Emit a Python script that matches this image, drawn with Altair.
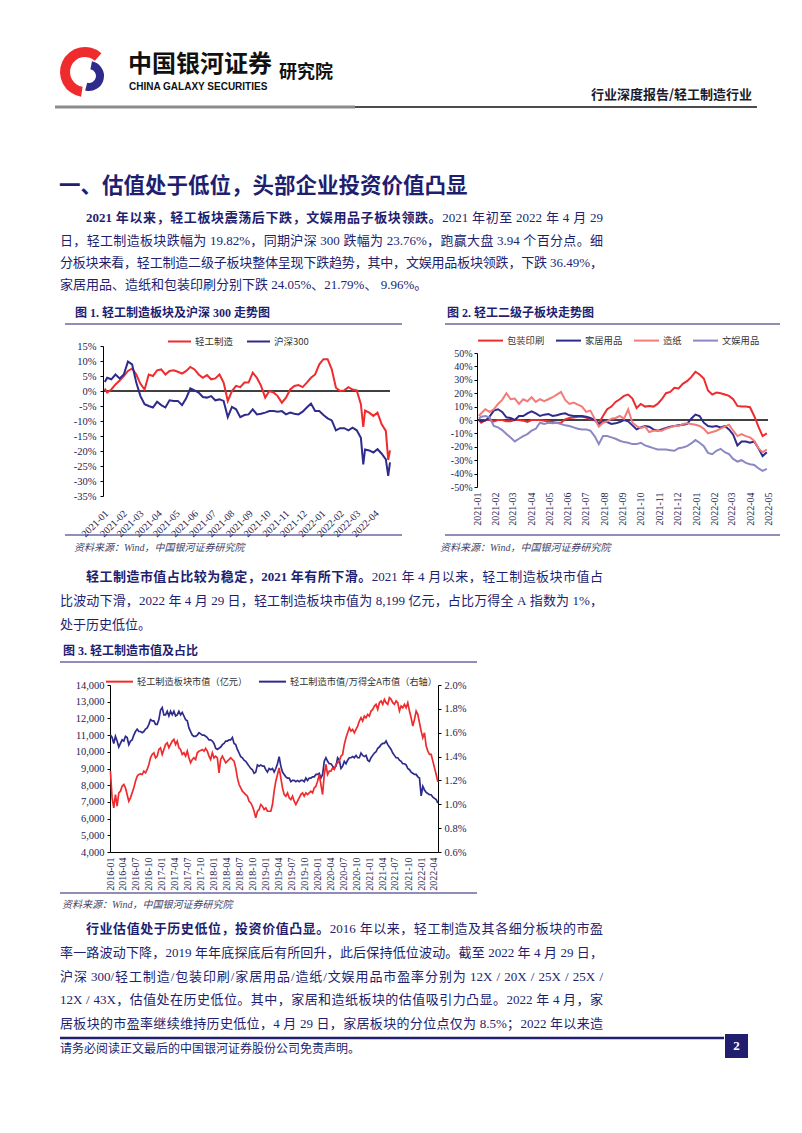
import altair as alt
import pandas as pd

# ---------------- colours & fonts ----------------
NAVY = "#221e6f"
INK = "#1c1c50"
RED = "#ef2b2d"
BLUE = "#2e2b8d"
SALMON = "#f37b79"
LAVENDER = "#8b88c4"
SERIF = "Liberation Serif, Noto Sans CJK SC"
SANS = "Noto Sans CJK SC"

# ---------------- chart 1 data: 轻工制造 vs 沪深300 (cumulative %, 2021-01 .. 2022-04-29) ----------------
c1_dates = ["2021-01-04", "2021-01-08", "2021-01-15", "2021-01-22", "2021-01-29", "2021-02-05", "2021-02-12",
            "2021-02-19", "2021-02-26", "2021-03-05", "2021-03-12", "2021-03-19", "2021-03-26", "2021-04-02",
            "2021-04-09", "2021-04-16", "2021-04-23", "2021-04-30", "2021-05-07", "2021-05-14", "2021-05-21",
            "2021-05-28", "2021-06-04", "2021-06-11", "2021-06-18", "2021-06-25", "2021-07-02", "2021-07-09",
            "2021-07-16", "2021-07-23", "2021-07-30", "2021-08-06", "2021-08-13", "2021-08-20", "2021-08-27",
            "2021-09-03", "2021-09-10", "2021-09-17", "2021-09-24", "2021-10-01", "2021-10-08", "2021-10-15",
            "2021-10-22", "2021-10-29", "2021-11-05", "2021-11-12", "2021-11-19", "2021-11-26", "2021-12-03",
            "2021-12-10", "2021-12-17", "2021-12-24", "2021-12-31", "2022-01-07", "2022-01-14", "2022-01-21",
            "2022-01-28", "2022-02-04", "2022-02-11", "2022-02-18", "2022-02-25", "2022-03-04", "2022-03-11",
            "2022-03-15", "2022-03-18", "2022-03-25", "2022-04-01", "2022-04-08", "2022-04-15", "2022-04-22",
            "2022-04-26", "2022-04-29"]
c1_qgzz = [0.8, -0.5, 0.5, 2.2, 3.5, 5.0, 6.7, 7.5, 5.5, 2.4, 0.5, 5.5, 5.0, 6.9, 7.2, 5.5, 6.7, 6.9, 6.4, 5.8,
           6.7, 8.0, 7.2, 5.5, 4.4, 5.3, 3.9, 4.2, 5.5, 2.8, -3.3, 0.0, 1.7, 1.3, 2.8, 2.8, 6.1, 4.4, 1.7, -2.2,
           0.0, -0.5, -1.7, -3.9, -2.2, 0.5, 1.7, 2.0, 1.3, 2.8, 4.4, 5.5, 8.9, 10.6, 10.6, 7.2, 1.1, 0.0, 0.2,
           1.3, 0.5, 0.2, -4.4, -12.0, -6.5, -7.2, -8.3, -7.2, -11.1, -13.3, -23.0, -19.8]
c1_hs300 = [3.0, 4.4, 3.9, 5.5, 4.2, 5.5, 9.8, 8.9, 2.8, -1.7, -4.4, -5.0, -5.5, -3.6, -4.7, -5.5, -3.1, -3.3,
            -3.3, -4.7, -2.4, 0.9, 0.2, -0.5, -2.0, -2.2, -1.7, -3.1, -2.8, -3.3, -8.7, -5.3, -6.1, -8.7, -8.0,
            -7.8, -6.1, -7.8, -7.6, -7.2, -6.7, -6.7, -6.9, -6.7, -7.8, -7.2, -7.6, -7.8, -6.9, -5.5, -4.2,
            -6.7, -6.7, -8.0, -9.1, -9.8, -13.1, -12.4, -12.4, -13.1, -12.2, -13.1, -15.6, -24.5, -19.5, -19.8,
            -20.5, -19.4, -20.9, -22.8, -28.3, -23.8]
c1_series = ["轻工制造", "沪深300"]
c1_ticks = ["2021-01", "2021-02", "2021-03", "2021-04", "2021-05", "2021-06", "2021-07", "2021-08", "2021-09",
            "2021-10", "2021-11", "2021-12", "2022-01", "2022-02", "2022-03", "2022-04"]

# ---------------- chart 2 data: 轻工二级子板块 (cumulative %) ----------------
c2_dates = [d for d in c1_dates if d not in ("2022-03-15", "2022-04-26")]
c2_bzys = [0, -2, 0, 0, -1, 0, 0, -1, -1, 0, 0, -0.5, -1.5, 0, 0, 0, -0.5, -1, -1.5, -2, -2, 0.5, 1.5, 1.8,
           2.5, 2.5, 1.8, 0.5, 0, -2.5, 3, 8, 10, 13.5, 15.5, 18, 19, 16, 9, 12, 10, 10.5, 10, 12, 15.5, 20, 21,
           24, 23.5, 27, 29, 32, 36, 34, 31, 22, 19, 20.5, 20, 19, 18, 15.5, 10.5, 10, 10, 9.5, 3, -5, -12, -10]
c2_jjyp = [0, -1, -0.5, 2.5, 7, 8, 6, 2, 1.5, 0, 3, 3, 5, 6.5, 5, 3, 4, 4.5, 3, 3.5, 4.5, 5, 3.5, 3, 3, 3,
           2.5, 1.5, 0, -3, -1, -1.5, -3, -2.5, -1.5, 0, -1, -4, -7, -5.5, -4.5, -5, -7, -8, -7, -6, -5, -4.5,
           -4, -3.5, -3, 1, 4, 3, -2, -4.5, -5, -4.5, -5.5, -4.5, -7, -11, -19, -16, -16, -17, -16, -21, -27, -24]
c2_zz = [3, 5, 8, 6, 8, 12, 15, 20, 15.5, 16, 12, 15.5, 14, 17, 13.5, 15.5, 14, 15.5, 17, 19, 21, 15, 12, 13,
         11.5, 10, 6, 7, 1, -5, -2, -1, 1, 1.5, 3, 1, 8, -2, -4.5, -6, -5, -9, -8, -8, -8, -6.5, -5.5, -4.5,
         -4.5, -3, -2.5, -3, -3.5, -4.5, -6.5, -10, -9, -8, -6.5, -5, -3.5, -8, -12, -10.5, -12, -13, -15.5,
         -21, -24, -22]
c2_wyyp = [1, 2.5, 3, 2, -4.5, -5.5, -7.5, -10.5, -13, -16, -14, -12, -10.5, -8, -6.5, -2, -3, -2, -2.5, -2,
           -3, -4, -4.5, -5.5, -6.5, -7, -7, -8, -12, -18, -12, -12, -13, -14, -15.5, -16.5, -17, -18, -18, -17,
           -19, -20, -21, -22, -22, -22, -22.5, -23, -21, -20.5, -19.5, -17.5, -15, -17, -19.5, -24.5, -25.5,
           -23, -21.5, -24, -25.5, -29, -31, -30, -32, -33, -33.5, -36, -38, -36.5]
c2_series = ["包装印刷", "家居用品", "造纸", "文娱用品"]
c2_ticks = c1_ticks + ["2022-05"]

# ---------------- chart 3 data: 市值 (亿元) and 占比 (%), 2016-01-04 .. 2022-04-29, evenly sampled ----------------
c3_start, c3_end = "2016-01-04", "2022-04-29"
c3_mv = [8840, 7240, 6640, 7440, 6740, 7540, 7640, 7940, 8040, 7840,
         7440, 7040, 7240, 7540, 7840, 8240, 8540, 8640, 8680, 8640,
         8840, 8740, 8940, 9240, 9640, 9840, 9940, 9640, 9740, 10140,
         10240, 9840, 10140, 10440, 10540, 10240, 10440, 10640, 10740, 10440,
         10640, 10240, 10140, 9840, 9940, 9740, 10040, 9640, 9340, 9540,
         9640, 9540, 9940, 10040, 10080, 10140, 10040, 10200, 10040, 9740,
         9540, 9940, 9640, 9740, 9640, 8740, 9540, 9740, 9540, 9340,
         9440, 9540, 9640, 9540, 9440, 9040, 8440, 8040, 7840, 7640,
         7540, 7440, 7340, 7040, 6940, 6740, 6440, 6050, 6440, 6540,
         6840, 6740, 6540, 6640, 6440, 6440,
         6440, 6840, 7640, 8240, 8640, 9040, 8440, 7840, 7440, 7340,
         7540, 7240, 7140, 7340, 7040, 6840, 7040, 7240, 7440, 7540,
         7340, 7540, 7440, 7540, 7640, 7540, 7840, 7940, 8240, 8640,
         8040, 7440, 8640, 9240, 8640, 8840, 8840, 9040, 8940, 9240,
         9340, 9440, 9740, 9840, 10440, 10840, 11140, 11440, 11240, 11340,
         11140, 11340, 11540, 11840, 12040, 11840, 12140, 12040, 12240, 12140,
         12440, 12540, 12740, 12840, 12540, 12940, 13040, 12840, 13140, 12940,
         12840, 13240, 13140, 12940, 12840, 13040, 12940, 12440, 12740, 12640,
         12840, 12640, 12940, 12440, 12040, 11540, 11940, 12440, 12240, 11740,
         11240, 10840, 11140, 10340, 10040, 9840, 9840, 9440, 9040, 8640,
         8199]
c3_ratio = [1.58, 1.56, 1.51, 1.57, 1.53, 1.48, 1.51, 1.54, 1.53, 1.57,
            1.56, 1.50, 1.53, 1.54, 1.58, 1.61, 1.63, 1.61, 1.61, 1.60,
            1.61, 1.63, 1.64, 1.67, 1.71, 1.70, 1.70, 1.67, 1.67, 1.71,
            1.79, 1.81, 1.75, 1.75, 1.78, 1.74, 1.78, 1.75, 1.78, 1.74,
            1.75, 1.78, 1.75, 1.77, 1.74, 1.71, 1.70, 1.64, 1.61, 1.58,
            1.57, 1.57, 1.58, 1.60, 1.59, 1.58, 1.58, 1.57, 1.56, 1.54,
            1.54, 1.53, 1.51, 1.47, 1.46, 1.47, 1.48, 1.50, 1.51, 1.53,
            1.53, 1.54, 1.54, 1.56, 1.51, 1.50, 1.46, 1.43, 1.40, 1.39,
            1.37, 1.36, 1.34, 1.32, 1.30, 1.29, 1.26, 1.27, 1.33, 1.32,
            1.33, 1.32, 1.32, 1.29, 1.27, 1.30,
            1.29, 1.30, 1.27, 1.30, 1.34, 1.40, 1.32, 1.27, 1.25, 1.23,
            1.22, 1.22, 1.19, 1.20, 1.20, 1.19, 1.20, 1.19, 1.20, 1.20,
            1.19, 1.22, 1.20, 1.22, 1.22, 1.23, 1.23, 1.25, 1.25, 1.26,
            1.22, 1.25, 1.36, 1.39, 1.36, 1.34, 1.34, 1.32, 1.30, 1.32,
            1.39, 1.37, 1.30, 1.32, 1.36, 1.34, 1.37, 1.39, 1.39, 1.40,
            1.39, 1.41, 1.39, 1.39, 1.43, 1.41, 1.40, 1.41, 1.37, 1.36,
            1.39, 1.41, 1.43, 1.44, 1.47, 1.48, 1.50, 1.51, 1.51, 1.53,
            1.50, 1.48, 1.46, 1.43, 1.41, 1.39, 1.39, 1.37, 1.36, 1.34,
            1.34, 1.33, 1.30, 1.29, 1.27, 1.26, 1.25, 1.25, 1.23, 1.22,
            1.07, 1.15, 1.12, 1.10, 1.09, 1.08, 1.08, 1.06, 1.05, 1.04,
            1.01]
c3_series = ["轻工制造板块市值（亿元）", "轻工制造市值/万得全A市值（右轴）"]
c3_ticks = ["2016-01", "2016-04", "2016-07", "2016-10", "2017-01", "2017-04", "2017-07", "2017-10",
            "2018-01", "2018-04", "2018-07", "2018-10", "2019-01", "2019-04", "2019-07", "2019-10",
            "2020-01", "2020-04", "2020-07", "2020-10", "2021-01", "2021-04", "2021-07", "2021-10",
            "2022-01", "2022-04"]
c1_yticks = [-35, -30, -25, -20, -15, -10, -5, 0, 5, 10, 15]
c2_yticks = [-50, -40, -30, -20, -10, 0, 10, 20, 30, 40, 50]
c3_left_ticks = [4000, 5000, 6000, 7000, 8000, 9000, 10000, 11000, 12000, 13000, 14000]
c3_right_ticks = [0.6, 0.8, 1.0, 1.2, 1.4, 1.6, 1.8, 2.0]

# ---------------- page texts ----------------
HEADER_CN = "中国银河证券"
HEADER_EN = "CHINA GALAXY SECURITIES"
HEADER_INST = "研究院"
HEADER_RIGHT = "行业深度报告/轻工制造行业"
HEADING = "一、估值处于低位，头部企业投资价值凸显"
FIG1_TITLE = "图 1. 轻工制造板块及沪深 300 走势图"
FIG2_TITLE = "图 2. 轻工二级子板块走势图"
FIG3_TITLE = "图 3. 轻工制造市值及占比"
SOURCE = "资料来源：Wind，中国银河证券研究院"
FOOTER = "请务必阅读正文最后的中国银河证券股份公司免责声明。"
PAGE_NO = "2"
P1_LINES = [
    [("2021 年以来，轻工板块震荡后下跌，文娱用品子板块领跌。", True), ("2021 年初至 2022 年 4 月 29", False)],
    [("日，轻工制造板块跌幅为 19.82%，同期沪深 300 跌幅为 23.76%，跑赢大盘 3.94 个百分点。细", False)],
    [("分板块来看，轻工制造二级子板块整体呈现下跌趋势，其中，文娱用品板块领跌，下跌 36.49%，", False)],
    [("家居用品、造纸和包装印刷分别下跌 24.05%、21.79%、 9.96%。", False)],
]
P2_LINES = [
    [("轻工制造市值占比较为稳定，2021 年有所下滑。", True), ("2021 年 4 月以来，轻工制造板块市值占", False)],
    [("比波动下滑，2022 年 4 月 29 日，轻工制造板块市值为 8,199 亿元，占比万得全 A 指数为 1%，", False)],
    [("处于历史低位。", False)],
]
P3_LINES = [
    [("行业估值处于历史低位，投资价值凸显。", True), ("2016 年以来，轻工制造及其各细分板块的市盈", False)],
    [("率一路波动下降，2019 年年底探底后有所回升，此后保持低位波动。截至 2022 年 4 月 29 日，", False)],
    [("沪深 300/轻工制造/包装印刷/家居用品/造纸/文娱用品市盈率分别为 12X / 20X / 25X / 25X /", False)],
    [("12X / 43X，估值处在历史低位。其中，家居和造纸板块的估值吸引力凸显。2022 年 4 月，家", False)],
    [("居板块的市盈率继续维持历史低位，4 月 29 日，家居板块的分位点仅为 8.5%；2022 年以来造", False)],
]

# ---------------- layout (page pixels; page origin of the canvas is 8,8) ----------------
LEFT = 8
TOP_H = 338                      # page y 8 .. 346
ROW1_TOP, ROW1_H, ROW1_W = 346, 150, 762
C1_X0, C1_X1 = 103, 390          # chart 1 plot (page x)
C2_X0, C2_X1 = 477, 768          # chart 2 plot (page x)
C2_Y0, C2_Y1 = 353, 487          # chart 2 plot (page y)
MID_TOP, MID_H = 496, 189
ROW3_TOP, ROW3_H = 685, 167
C3_X0, C3_X1 = 110, 438
BOT_TOP, BOT_H = 852, 273
BODY = 13
TEXT_L, TEXT_R, INDENT = 60, 603, 86

LATIN_EM = {" ": 0.25, ".": 0.25, ",": 0.25, "%": 0.833, "/": 0.278, "X": 0.722, "A": 0.722, "-": 0.333}


def tok_width(tok, size):
    w = 0.0
    for ch in tok:
        w += size if ord(ch) >= 0x2E80 else LATIN_EM.get(ch, 0.5) * size
    return w


def set_line(segments, x0, x1, y, size, stretch):
    items, gap = [], 0.0
    for text, bold in segments:
        word = ""
        for ch in text:
            if ch == " ":
                if word:
                    items.append([word, tok_width(word, size), bold, gap])
                    gap, word = 0.0, ""
                gap += 0.25 * size
            elif ord(ch) < 128:
                word += ch
            else:
                if word:
                    items.append([word, tok_width(word, size), bold, gap])
                    gap, word = 0.0, ""
                items.append([ch, float(size), bold, gap])
                gap = 0.0
        if word:
            items.append([word, tok_width(word, size), bold, gap])
            gap = 0.0
    natural = sum(w + g for _, w, _, g in items)
    extra = (x1 - x0 - natural) / (len(items) - 1) if (stretch and len(items) > 1) else 0.0
    out, x = [], x0
    for t, w, bold, g in items:
        x += g
        out.append({"t": t, "px": round(x, 2), "py": y, "bold": bold})
        x += w + extra
    return out


def text_marks(rows, size, color, font=SERIF, weight="normal", style="normal", align="left"):
    return alt.Chart(pd.DataFrame(rows)).mark_text(
        align=align, baseline="middle", fontSize=size, font=font, fontWeight=weight,
        fontStyle=style, color=color
    ).encode(x=alt.X("px:Q", scale=None, axis=None), y=alt.Y("py:Q", scale=None, axis=None),
             text=alt.Text("t:N"))


def label(s, x, y, top, size, color, **kw):
    return text_marks([{"t": s, "px": x - LEFT, "py": y - top}], size, color, **kw)


def rule(x1, x2, y, top, color, width):
    return alt.Chart(pd.DataFrame({"k": [0]})).mark_rule(color=color, strokeWidth=width).encode(
        x=alt.value(x1 - LEFT), x2=alt.value(x2 - LEFT), y=alt.value(y - top))


def box(x1, x2, y1, y2, top, color):
    return alt.Chart(pd.DataFrame({"k": [0]})).mark_rect(color=color).encode(
        x=alt.value(x1 - LEFT), x2=alt.value(x2 - LEFT), y=alt.value(y1 - top), y2=alt.value(y2 - top))


def arc(cx, cy, top, r1, r2, t1, t2, color):
    return alt.Chart(pd.DataFrame({"k": [0]})).mark_arc(
        radius=r1, radius2=r2, theta=t1, theta2=t2, color=color
    ).encode(x=alt.value(cx - LEFT), y=alt.value(cy - top))


def paragraph(lines, ys, top, stretch_last):
    rows = []
    for i, (segs, y) in enumerate(zip(lines, ys)):
        x0 = INDENT if i == 0 else TEXT_L
        stretch = stretch_last or i < len(lines) - 1
        rows += set_line(segs, x0 - LEFT, TEXT_R - LEFT, y - top, BODY, stretch)
    df = pd.DataFrame(rows)
    layers = []
    b = df[df["bold"]]
    n = df[~df["bold"]]
    if len(b):
        layers.append(text_marks(b.to_dict("records"), BODY, NAVY, weight="bold"))
    if len(n):
        layers.append(text_marks(n.to_dict("records"), BODY, NAVY))
    return layers


def dt(y, m, d=1):
    return alt.DateTime(year=y, month=m, date=d)


def ticks_of(labels):
    return [dt(int(s[:4]), int(s[5:7])) for s in labels]


def legend(x, y, size, pad, fs):
    return alt.Legend(orient="none", legendX=x, legendY=y, direction="horizontal", title=None,
                      symbolType="stroke", symbolSize=size, symbolStrokeWidth=2, labelFont=SANS,
                      labelFontSize=fs, labelColor="#333333", columnPadding=pad, labelOffset=3,
                      padding=0, gridAlign="each")


def xaxis(ticks, angle, pad, offset, domain):
    return alt.Axis(values=ticks_of(ticks), tickCount=len(ticks) + 2, format="%Y-%m", labelAngle=angle,
                    labelAlign="right", labelBaseline="top" if angle == -45 else "middle", domain=domain,
                    ticks=False, labelPadding=pad, labelFontSize=10, labelFlush=False, labelOverlap=False,
                    orient="bottom", offset=offset)


def yaxis(values, expr, orient, offset, pad, fs):
    return alt.Axis(values=values, tickCount=len(values) + 2, labelExpr=expr, orient=orient, offset=offset,
                    tickSize=3, labelPadding=pad, labelFontSize=fs, labelOverlap=False, labelFlush=False)


# ---------------- row 1: chart 1 and chart 2 in one layered view with their own pixel ranges ----------------
n1 = len(c1_dates)
df1 = pd.DataFrame({"date": pd.to_datetime(c1_dates * 2), "value": c1_qgzz + c1_hs300,
                    "series": [c1_series[0]] * n1 + [c1_series[1]] * n1})
x1 = alt.X("date:T", title=None,
           scale=alt.Scale(domain=[dt(2021, 1, 1), dt(2022, 4, 29)], range=[C1_X0 - LEFT, C1_X1 - LEFT]),
           axis=xaxis(c1_ticks, -45, 12, 0, False))
y1 = alt.Y("value:Q", title=None, scale=alt.Scale(domain=[-35, 15], nice=False, range=[ROW1_H, 0]),
           axis=yaxis(c1_yticks, "datum.value + '%'", "left", -(C1_X0 - LEFT), 4, 10.5))
lines1 = alt.Chart(df1).mark_line(strokeWidth=2).encode(
    x=x1, y=y1,
    color=alt.Color("series:N", scale=alt.Scale(domain=c1_series, range=[RED, BLUE]),
                    legend=legend(167 - LEFT, -17, 529, 9, 9.5)))
zero1 = alt.Chart(pd.DataFrame({"z": [0]})).mark_rule(color="black", strokeWidth=1.5).encode(
    x=alt.datum(dt(2021, 1, 1)), x2=alt.datum(dt(2022, 4, 29)), y=alt.datum(0))
chart1 = alt.layer(zero1, lines1)

n2 = len(c2_dates)
df2 = pd.DataFrame({"date": pd.to_datetime(c2_dates * 4),
                    "value": c2_bzys + c2_jjyp + c2_zz + c2_wyyp,
                    "series": sum([[s] * n2 for s in c2_series], [])})
x2 = alt.X("date:T", title=None,
           scale=alt.Scale(domain=[dt(2021, 1, 1), dt(2022, 5, 1)], range=[C2_X0 - LEFT, C2_X1 - LEFT]),
           axis=xaxis(c2_ticks, -90, 5, -(ROW1_TOP + ROW1_H - C2_Y1), False))
y2 = alt.Y("value:Q", title=None,
           scale=alt.Scale(domain=[-50, 50], nice=False, range=[C2_Y1 - ROW1_TOP, C2_Y0 - ROW1_TOP]),
           axis=yaxis(c2_yticks, "datum.value + '%'", "left", -(C2_X0 - LEFT), 2, 10))
lines2 = alt.Chart(df2).mark_line(strokeWidth=2).encode(
    x=x2, y=y2,
    color=alt.Color("series:N", scale=alt.Scale(domain=c2_series, range=[RED, BLUE, SALMON, LAVENDER]),
                    sort=c2_series, legend=legend(C2_X0 - LEFT, -19, 625, 7, 9.3)))
zero2 = alt.Chart(pd.DataFrame({"z": [0]})).mark_rule(color="black", strokeWidth=1.5).encode(
    x=alt.datum(dt(2021, 1, 1)), x2=alt.datum(dt(2022, 5, 1)), y=alt.datum(0))
chart2 = alt.layer(zero2, lines2)

row1 = alt.layer(chart1, chart2).resolve_scale(
    x="independent", y="independent", color="independent"
).resolve_axis(x="independent", y="independent").resolve_legend(color="independent").properties(
    width=ROW1_W, height=ROW1_H)

# ---------------- row 3: chart 3 (dual axis) ----------------
df3a = pd.DataFrame({"date": pd.date_range(c3_start, c3_end, periods=len(c3_mv)), "value": c3_mv,
                     "series": c3_series[0]})
df3b = pd.DataFrame({"date": pd.date_range(c3_start, c3_end, periods=len(c3_ratio)), "value": c3_ratio,
                     "series": c3_series[1]})
x3 = alt.X("date:T", title=None,
           scale=alt.Scale(domain=[dt(2016, 1, 1), dt(2022, 4, 30)], range=[C3_X0 - LEFT, C3_X1 - LEFT]),
           axis=xaxis(c3_ticks, -90, 5, 0, True))
color3 = alt.Color("series:N", scale=alt.Scale(domain=c3_series, range=[RED, BLUE]),
                   legend=legend(105 - LEFT, -18, 729, 7, 9.2))
left3 = alt.Chart(df3a).mark_line(strokeWidth=1.7).encode(
    x=x3, color=color3,
    y=alt.Y("value:Q", title=None, scale=alt.Scale(domain=[4000, 14000], nice=False),
            axis=yaxis(c3_left_ticks, "format(datum.value, ',')", "left", -(C3_X0 - LEFT), 3, 10.5)))
right3 = alt.Chart(df3b).mark_line(strokeWidth=1.7).encode(
    x=x3, color=color3,
    y=alt.Y("value:Q", title=None, scale=alt.Scale(domain=[0.6, 2.0], nice=False),
            axis=yaxis(c3_right_ticks, "format(datum.value, '.1f') + '%'", "right", 0, 3, 10.5)))
row3 = alt.layer(right3, left3).resolve_scale(y="independent").resolve_axis(y="independent").properties(
    width=C3_X1 - LEFT, height=ROW3_H)

# ---------------- text panels ----------------
T0 = LEFT
top_layers = [
    arc(85, 72, T0, 25, 15, 3.3, 7.0, RED),
    arc(89, 76, T0, 15, 7, 0.2, 3.4, BLUE),
    label(HEADER_CN, 128, 65, T0, 24, "#111111", font=SANS, weight="bold"),
    label(HEADER_EN, 129, 87, T0, 10, "#111111", font="Liberation Sans", weight="bold"),
    label(HEADER_INST, 279, 73, T0, 18, "#111111", font=SANS, weight="bold"),
    label(HEADER_RIGHT, 752, 95, T0, 13, "#1a1a2e", font=SANS, weight="bold", align="right"),
    rule(55, 355, 107, T0, "#8c8c8c", 3),
    rule(355, 757, 107, T0, "#111111", 1.5),
    label(HEADING, 59, 187, T0, 21.5, NAVY, font=SANS, weight="bold"),
    label(FIG1_TITLE, 75, 313, T0, 12, NAVY, weight="bold"),
    label(FIG2_TITLE, 447, 313, T0, 12, NAVY, weight="bold"),
    rule(65, 402, 324, T0, NAVY, 1.2),
    rule(445, 780, 324, T0, NAVY, 1.2),
] + paragraph(P1_LINES, [218, 241, 263, 285], T0, False)
top_panel = alt.layer(*top_layers).properties(width=786, height=TOP_H)

mid_layers = [
    rule(65, 402, 535, MID_TOP, NAVY, 1.2),
    rule(445, 780, 535, MID_TOP, NAVY, 1.2),
    label(SOURCE, 74, 548, MID_TOP, 10, "#444466", style="italic"),
    label(SOURCE, 440, 548, MID_TOP, 10, "#444466", style="italic"),
    label(FIG3_TITLE, 63, 651, MID_TOP, 12, NAVY, weight="bold"),
    rule(60, 477, 662, MID_TOP, NAVY, 1.2),
] + paragraph(P2_LINES, [577, 601, 625], MID_TOP, False)
mid_panel = alt.layer(*mid_layers).properties(width=786, height=MID_H)

bot_layers = [
    rule(60, 477, 893, BOT_TOP, NAVY, 1.2),
    label(SOURCE, 62, 905, BOT_TOP, 10, "#444466", style="italic"),
    rule(60, 724, 1038, BOT_TOP, NAVY, 2.5),
    box(725, 748, 1034, 1058, BOT_TOP, NAVY),
    label(PAGE_NO, 736.5, 1046, BOT_TOP, 13, "#ffffff", weight="bold", align="center"),
    label(FOOTER, 60, 1049, BOT_TOP, 12, NAVY, font=SANS),
] + paragraph(P3_LINES, [929, 953, 977, 1000, 1024], BOT_TOP, True)
bot_panel = alt.layer(*bot_layers).properties(width=786, height=BOT_H)

# ---------------- page assembly ----------------
page = alt.VConcatChart(
    vconcat=[top_panel, row1, mid_panel, row3, bot_panel],
    spacing=0, bounds="flush", padding=0, background="white",
    resolve=alt.Resolve(scale=alt.ScaleResolveMap(color="independent"),
                        legend=alt.LegendResolveMap(color="independent")),
).configure_view(stroke=None).configure_axis(
    labelFont=SERIF, labelColor=INK, domainColor="black", tickColor="black", grid=False, domainWidth=1
)

page.save("out.html", embed_options={"renderer": "svg", "actions": False})
